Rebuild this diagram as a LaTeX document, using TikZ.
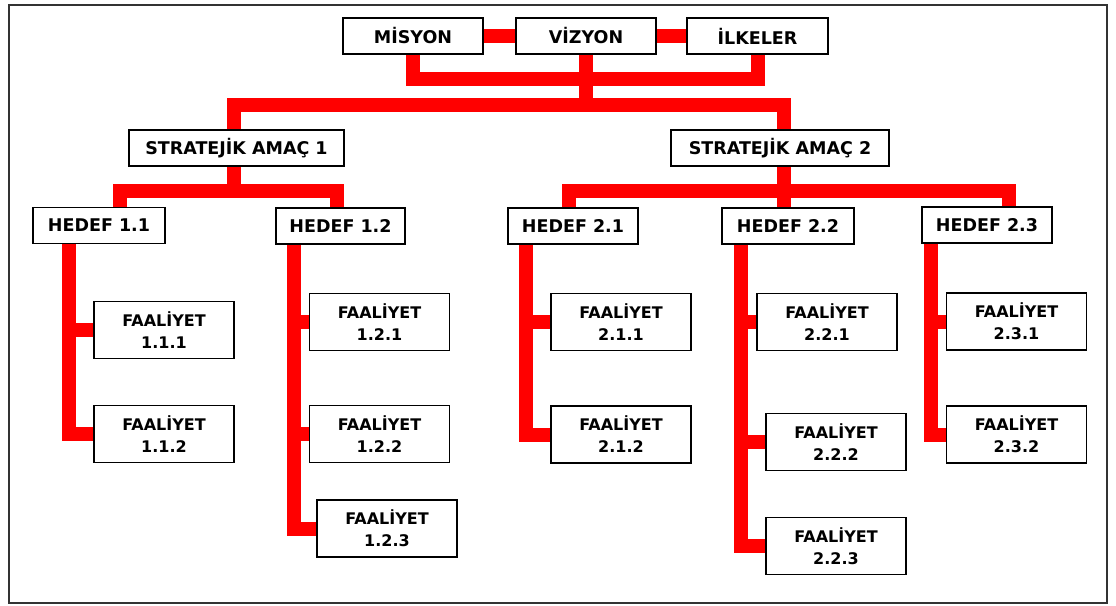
\documentclass[tikz,border=0pt]{standalone}
\usepackage{fontspec}
\setmainfont{DejaVu Sans}

\begin{document}
\begin{tikzpicture}[x=1pt,y=-1pt,
    box/.style={draw,line width=1.5pt,fill=white,inner sep=0pt,minimum height=36pt,
                font=\fontsize{17.5}{20}\selectfont\bfseries},
    act/.style={box,minimum width=140pt,minimum height=57pt,align=center,
                font=\fontsize{16}{22}\selectfont\bfseries},
    link/.style={draw=red,line width=14pt}]
  \useasboundingbox (0,0) rectangle (1116,605);
  \draw[line width=2pt,black!80] (9,5) rectangle (1107,603);

  % top row
  \node[box,minimum width=140pt] (misyon)  at (413,36)   {MİSYON};
  \node[box,minimum width=140pt] (vizyon)  at (586,36)   {VİZYON};
  \node[box,minimum width=141pt] (ilkeler) at (757.5,36) {İLKELER};

  % aims
  \node[box,minimum width=215pt] (amac1) at (236.5,148) {STRATEJİK AMAÇ 1};
  \node[box,minimum width=218pt] (amac2) at (780,148)   {STRATEJİK AMAÇ 2};

  % goals
  \node[box,minimum width=132pt] (hedef11) at (99,225.5)  {HEDEF 1.1};
  \node[box,minimum width=129pt] (hedef12) at (340.5,226) {HEDEF 1.2};
  \node[box,minimum width=130pt] (hedef21) at (573,226)   {HEDEF 2.1};
  \node[box,minimum width=132pt] (hedef22) at (788,226)   {HEDEF 2.2};
  \node[box,minimum width=130pt] (hedef23) at (987,225)   {HEDEF 2.3};

  % activities
  \node[act] (f111) at (164,330)     {FAALİYET\\1.1.1};
  \node[act] (f112) at (164,434)     {FAALİYET\\1.1.2};
  \node[act] (f121) at (379.5,322)   {FAALİYET\\1.2.1};
  \node[act] (f122) at (379.5,434)   {FAALİYET\\1.2.2};
  \node[act] (f123) at (387,528.5)   {FAALİYET\\1.2.3};
  \node[act] (f211) at (621,322)     {FAALİYET\\2.1.1};
  \node[act] (f212) at (621,434.5)   {FAALİYET\\2.1.2};
  \node[act] (f221) at (827,322)     {FAALİYET\\2.2.1};
  \node[act] (f222) at (836,442)     {FAALİYET\\2.2.2};
  \node[act] (f223) at (836,546)     {FAALİYET\\2.2.3};
  \node[act] (f231) at (1016.5,321.5) {FAALİYET\\2.3.1};
  \node[act] (f232) at (1016.5,434.5) {FAALİYET\\2.3.2};

  % red connectors
  \draw[link] (misyon) -- (vizyon);
  \draw[link] (vizyon) -- (ilkeler);
  \draw[link] (misyon.south) -- ++(0,24) -| (ilkeler.south);
  \draw[link] (vizyon.south) -- ++(0,50) coordinate (top);
  \draw[link] ([xshift=-3pt]amac1.north) |- (top) -| ([xshift=4pt]amac2.north);

  \draw[link] ([xshift=-3pt]amac1.south) -- ++(0,24) coordinate (a1);
  \draw[link] ([xshift=21pt]hedef11.north) |- (a1) -| ([xshift=-4pt]hedef12.north);
  \draw[link] ([xshift=4pt]amac2.south) -- ++(0,24) coordinate (a2);
  \draw[link] ([xshift=-4pt]hedef21.north) |- (a2) -| ([xshift=22pt]hedef23.north);
  \draw[link] (a2) -- ([xshift=-4pt]hedef22.north);

  \coordinate (s11) at ([xshift=-30pt]hedef11.south);
  \coordinate (s12) at ([xshift=-47pt]hedef12.south);
  \coordinate (s21) at ([xshift=-47pt]hedef21.south);
  \coordinate (s22) at ([xshift=-47pt]hedef22.south);
  \coordinate (s23) at ([xshift=-56pt]hedef23.south);

  \draw[link] (s11) |- (f112.west);
  \draw[link] (f111.west) -- (f111.west -| s11);
  \draw[link] (s12) |- (f123.west);
  \draw[link] (f121.west) -- (f121.west -| s12);
  \draw[link] (f122.west) -- (f122.west -| s12);
  \draw[link] (s21) |- (f212.west);
  \draw[link] (f211.west) -- (f211.west -| s21);
  \draw[link] (s22) |- (f223.west);
  \draw[link] (f221.west) -- (f221.west -| s22);
  \draw[link] (f222.west) -- (f222.west -| s22);
  \draw[link] (s23) |- (f232.west);
  \draw[link] (f231.west) -- (f231.west -| s23);
\end{tikzpicture}
\end{document}
